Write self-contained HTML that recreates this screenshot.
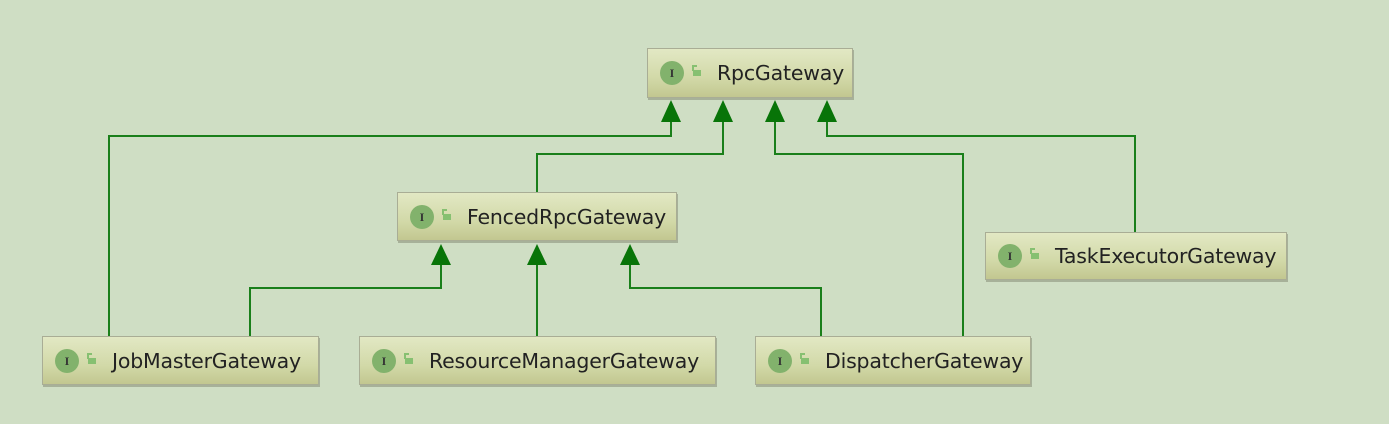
<!DOCTYPE html>
<html><head><meta charset="utf-8"><style>
html,body{margin:0;padding:0}
body{width:1389px;height:424px;background:#cfdec4;position:relative;overflow:hidden;font-family:"DejaVu Sans","Liberation Sans",sans-serif}
.b{position:absolute;box-sizing:border-box;border:1px solid #a9ad95;background:linear-gradient(#e2e8c4,#d2d9a8 60%,#c2c790);box-shadow:1px 2px 0 #a7b199;}
.b .i{position:absolute;left:12px;top:50%;margin-top:-12px;width:24px;height:24px;border-radius:50%;background:#82b26c;color:#333;font:bold 12px "Liberation Serif",serif;text-align:center;line-height:24px}
.b .l{position:absolute;left:45px;top:50%;margin-top:-3px;width:8px;height:6px;background:#86c071}
.b .l:before{content:"";position:absolute;left:-1px;top:-5px;width:3px;height:4px;border:2px solid #86c071;border-bottom:none;border-right:none;}
.b .t{position:absolute;left:69px;top:50%;transform:translateY(-50%);font-size:20.5px;color:#222;white-space:nowrap;letter-spacing:-0.2px}
</style></head><body>
<svg width="1389" height="424" style="position:absolute;left:0;top:0">
<g stroke="#1a7f1a" stroke-width="2" fill="none">
<polyline points="109,336 109,136 671,136 671,120"/>
<polyline points="537,192 537,154 723,154 723,120"/>
<polyline points="963,336 963,154 775,154 775,120"/>
<polyline points="1135,232 1135,136 827,136 827,120"/>
<polyline points="250,336 250,288 441,288 441,264"/>
<polyline points="537,336 537,264"/>
<polyline points="821,336 821,288 630,288 630,264"/>
</g>
<g fill="#087408">
<polygon points="671,100 661,122 681,122"/>
<polygon points="723,100 713,122 733,122"/>
<polygon points="775,100 765,122 785,122"/>
<polygon points="827,100 817,122 837,122"/>
<polygon points="441,244 431,265 451,265"/>
<polygon points="537,244 527,265 547,265"/>
<polygon points="630,244 620,265 640,265"/>
</g>
</svg>
<div class="b" style="left:647px;top:48px;width:206px;height:50px"><span class="i">I</span><span class="l"></span><span class="t">RpcGateway</span></div>
<div class="b" style="left:397px;top:192px;width:280px;height:49px"><span class="i">I</span><span class="l"></span><span class="t">FencedRpcGateway</span></div>
<div class="b" style="left:985px;top:232px;width:302px;height:48px"><span class="i">I</span><span class="l"></span><span class="t">TaskExecutorGateway</span></div>
<div class="b" style="left:42px;top:336px;width:277px;height:49px"><span class="i">I</span><span class="l"></span><span class="t">JobMasterGateway</span></div>
<div class="b" style="left:359px;top:336px;width:357px;height:49px"><span class="i">I</span><span class="l"></span><span class="t">ResourceManagerGateway</span></div>
<div class="b" style="left:755px;top:336px;width:276px;height:49px"><span class="i">I</span><span class="l"></span><span class="t">DispatcherGateway</span></div>
</body></html>
